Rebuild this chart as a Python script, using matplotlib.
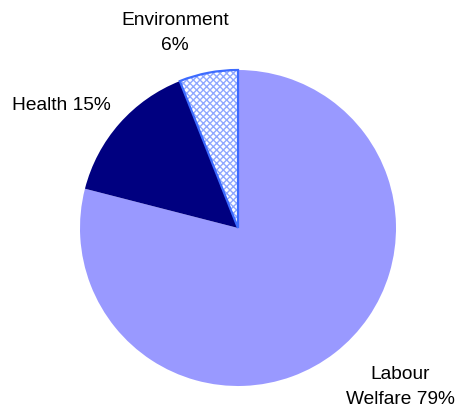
import matplotlib
matplotlib.use("Agg")
import matplotlib.pyplot as plt
from matplotlib.patches import Wedge

categories = ["Labour\nWelfare", "Health", "Environment"]
values = [79, 15, 6]
label_texts = ["Labour\nWelfare 79%", "Health 15%", "Environment\n6%"]

colors = ["#9999FF", "#000080", "white"]

plt.rcParams["hatch.linewidth"] = 1.0

W, H = 458, 410
fig = plt.figure(figsize=(W / 100, H / 100), dpi=100)
ax = fig.add_axes([0, 0, 1, 1])

cx, cy, r = 238, H - 229, 158
wedges, _ = ax.pie(values, colors=colors, startangle=90, counterclock=False,
                   center=(cx, cy), radius=r, frame=True,
                   wedgeprops=dict(linewidth=0))
ax.set_xlim(0, W)
ax.set_ylim(0, H)
ax.set_aspect("equal")
ax.axis("off")

env = wedges[2]
env.set_edgecolor("#8FA8FF")
env.set_hatch("xxxxx")
env.set_linewidth(0)
outline = Wedge(env.center, env.r, env.theta1, env.theta2, fill=False,
                edgecolor="#3D6BFF", linewidth=1.6, zorder=env.get_zorder() + 0.1)
ax.add_patch(outline)

font = dict(family=["Liberation Sans", "DejaVu Sans"], fontsize=13.8, color="black")
ax.text(400, H - 387, label_texts[0], ha="center", va="center", linespacing=1.55, **font)
ax.text(61, H - 105, label_texts[1], ha="center", va="center", **font)
ax.text(175, H - 33, label_texts[2], ha="center", va="center", linespacing=1.55, **font)

fig.savefig("out.png", dpi=100)
